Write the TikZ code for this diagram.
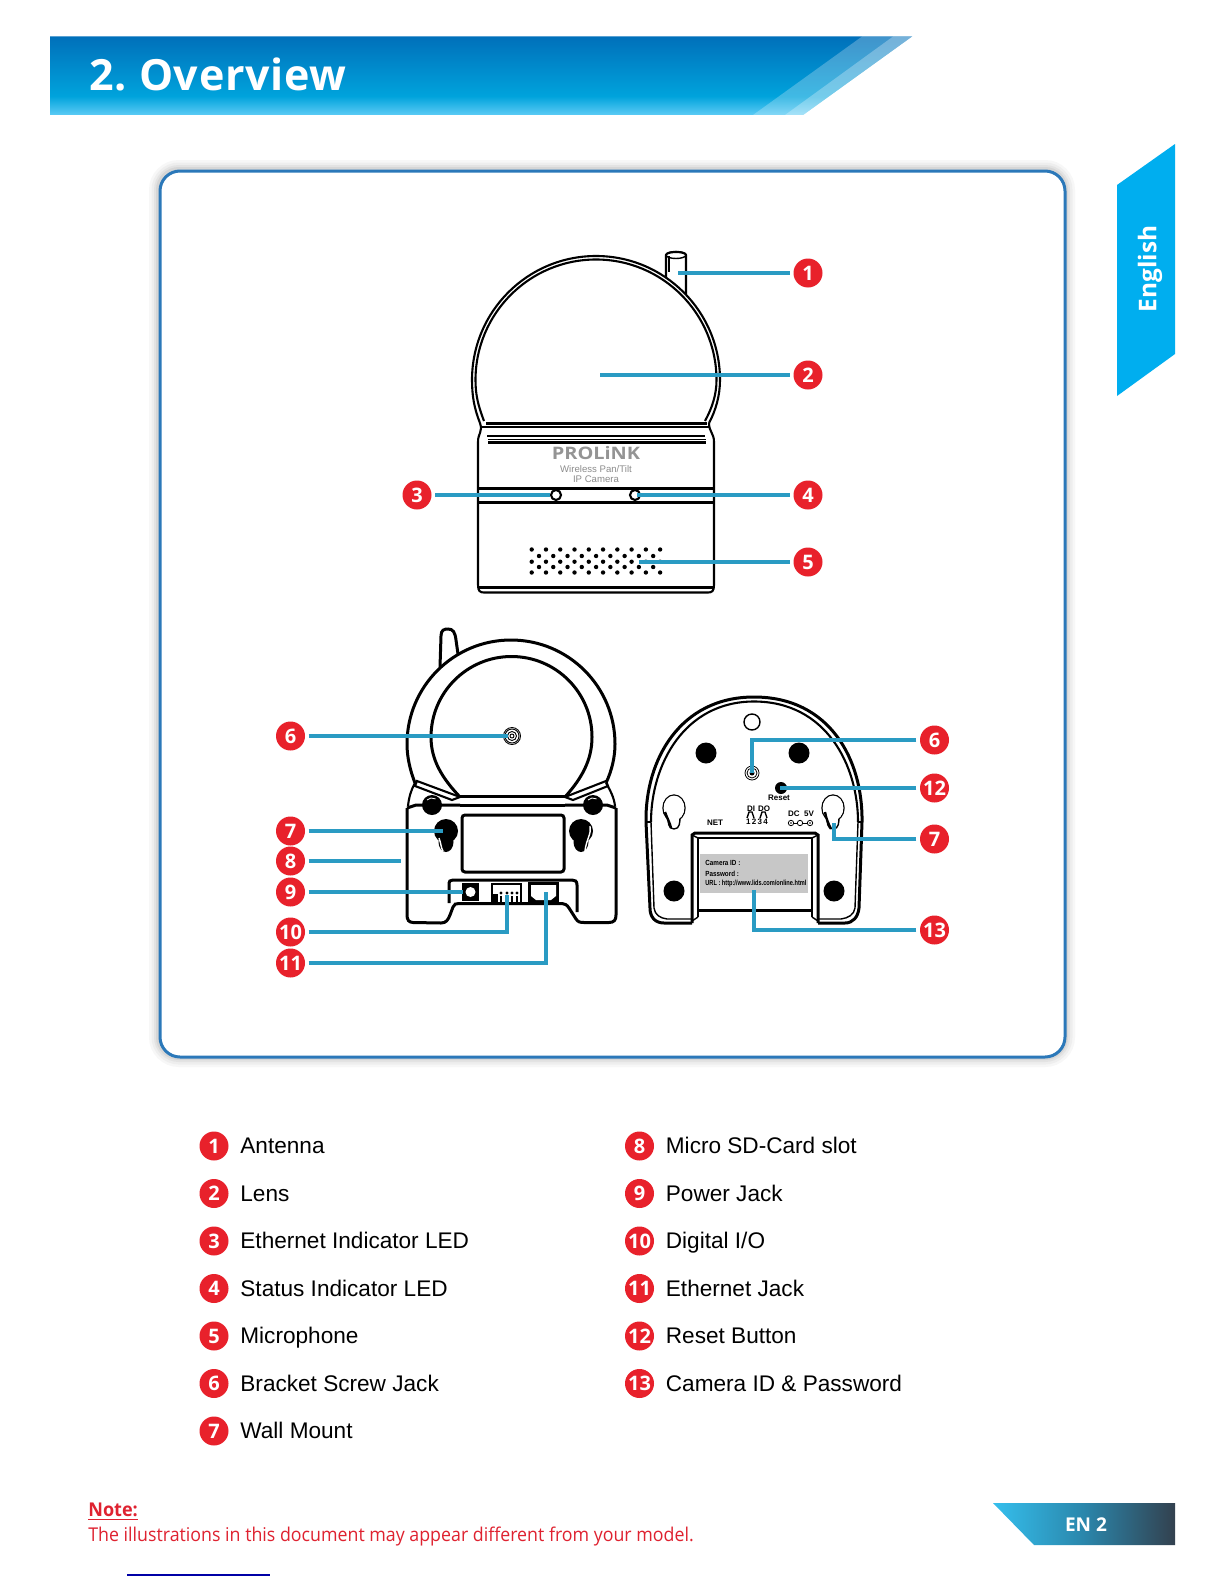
\documentclass[tikz,border=0pt]{standalone}
\usepackage{fontspec}
\setmainfont{Liberation Sans}
\newfontfamily\headfont[LetterSpace=1.5,WordSpace=0.7]{Open Sans}
\newfontfamily\opensans{Open Sans}
\usetikzlibrary{calc}
\definecolor{leadc}{HTML}{2A9BC3}
\definecolor{badgec}{HTML}{E8212B}
\definecolor{notec}{HTML}{DF2230}
\definecolor{boxc}{HTML}{2B78B9}
\definecolor{tabc}{HTML}{00AEEF}
\definecolor{hA}{HTML}{0070BA}
\definecolor{hB}{HTML}{00A3DC}
\definecolor{hC}{HTML}{5CCBF5}
\definecolor{pgL}{HTML}{35BFED}
\definecolor{pgM}{HTML}{2A86AB}
\definecolor{pgR}{HTML}{33414F}
\pgfdeclareverticalshading{hdr}{100bp}{color(0bp)=(hC); color(25bp)=(hC); color(37bp)=(hB); color(75bp)=(hA); color(100bp)=(hA)}
\pgfdeclarehorizontalshading{pgsh}{100bp}{color(0bp)=(pgL); color(25bp)=(pgL); color(50bp)=(pgM); color(75bp)=(pgR); color(100bp)=(pgR)}
\tikzset{
  leader/.style={draw=leadc,line width=1.6pt},
  badge/.style={circle,fill=badgec,text=white,minimum size=14.5pt,inner sep=0pt,outer sep=1.8pt,font=\opensans\bfseries\fontsize{10}{10}\selectfont},
  bigbadge/.style={badge,font=\opensans\bfseries\fontsize{10}{10}\selectfont},
  legend/.style={anchor=base west,inner sep=0pt,font=\fontsize{11.3}{13}\selectfont},
  ink/.style={draw=black,line width=1.05pt},
  thinink/.style={draw=black,line width=0.7pt},
  thickink/.style={draw=black,line width=1.5pt},
  tiny/.style={inner sep=0pt,font=\bfseries\fontsize{3.7}{4}\selectfont},
  smalltag/.style={inner sep=0pt,font=\bfseries\fontsize{4}{4}\selectfont},
}
\newcommand{\solidkey}[2]{%
  \fill[black] (#1,#2) ellipse[x radius=12,y radius=12];
  \fill[black] (#1,#2+11) ellipse[x radius=7.5,y radius=10];
}
\newcommand{\openkey}[2]{%
  \draw[thinink,fill=white] (#1,#2) ellipse[x radius=11,y radius=13];
  \fill[white,draw=black,line width=0.7pt] (#1-6,#2+8) .. controls (#1-6,#2+14) and (#1-6,#2+21) .. (#1,#2+21) .. controls (#1+6,#2+21) and (#1+6,#2+14) .. (#1+6,#2+8) -- cycle;
  \fill[white] (#1,#2) ellipse[x radius=10.4,y radius=12.4];
}
\begin{document}
\begin{tikzpicture}[x=0.5pt,y=-0.5pt]
\useasboundingbox (0,0) rectangle (1224,1584);
\fill[white] (0,0) rectangle (1224,1584);

% header
\shade[shading=hdr] (50,36.5) -- (912,36.5) -- (803,115) -- (50,115) -- cycle;
\fill[white,opacity=.25] (862,36.5) -- (912,36.5) -- (803,115) -- (753,115) -- cycle;
\fill[white,opacity=.28] (893,36.5) -- (912,36.5) -- (803,115) -- (785,115) -- cycle;
\node[anchor=west,inner sep=0pt,text=white,font=\headfont\bfseries\fontsize{21.5}{24}\selectfont] (title) at (89,74) {2. Overview};

% language tab
\fill[tabc] (1117,185) -- (1175,144) -- (1175,354) -- (1117,396) -- cycle;
\node[rotate=90,inner sep=0pt,text=white,font=\opensans\bfseries\fontsize{12.2}{14}\selectfont] (lang) at (1150,269) {English};

% main box
\foreach \w/\o in {20/.05,15/.06,10/.08,6/.10}
  \draw[black!60,opacity=\o,line width=\w*0.5pt,rounded corners=10pt] (159,170) rectangle (1065,1057);
\draw[boxc,line width=1.5pt,fill=white,rounded corners=10pt] (160,171) rectangle (1065,1057);

% ----- front camera
\draw[ink,fill=white] (666,292) -- (666,255) arc[start angle=180,end angle=360,x radius=10,y radius=3] -- (686,295);
\draw[thinink] (676,255) ellipse[x radius=10,y radius=3.5];
\draw[thinink] (669,256) -- (669,272);
\draw[ink,fill=white] (480,423) .. controls (474,408) and (472,395) .. (472,380) arc[start angle=180,end angle=360,radius=124] .. controls (720,395) and (716,410) .. (709,423);
\draw[ink] (484,421) .. controls (478,405) and (475.5,395) .. (475.5,380) arc[start angle=180,end angle=360,radius=120.5] .. controls (716.5,395) and (712,408) .. (705,421);
\draw[thickink] (486,423) -- (707,423);
\draw[ink] (482,427) -- (710,427);
\draw[ink] (487,436) -- (705,436);
\draw[thinink] (488,439.5) -- (706,439.5);
\draw[ink] (488,442.5) -- (706,442.5);
\draw[ink] (480,423) .. controls (483,432) and (478,433) .. (478,442) -- (478,585) .. controls (478,591) and (480,592.5) .. (484,592.5) -- (708,592.5) .. controls (712,592.5) and (714,591) .. (714,585) -- (714,442) .. controls (714,433) and (709,432) .. (709,423);
\draw[thickink] (478,488) -- (714,488);
\draw[thickink] (478,502) -- (714,502);
\draw[thickink] (478,587) -- (714,587);
\node[inner sep=0pt,text=black!42,font=\opensans\bfseries\fontsize{8.6}{9}\selectfont] (brand) at (596,453.5) {\scalebox{1.16}[1]{PROLiNK}};
\node[inner sep=0pt,text=black!45,font=\fontsize{4.8}{5}\selectfont] (model1) at (596,469.5) {Wireless Pan/Tilt};
\node[inner sep=0pt,text=black!45,font=\fontsize{4.8}{5}\selectfont] (model2) at (596,479) {IP Camera};
\draw[ink,fill=white] (556,495) circle[radius=5];
\draw[ink,fill=white] (635,495) circle[radius=5];
\foreach \yy in {549.5,561.7,572.5} \foreach \i in {0,...,9} \fill[black] (531.7+\i*14.27,\yy) circle[radius=2.2];
\foreach \yy in {556,567} \foreach \i in {0,...,8} \fill[black] (539+\i*14.27,\yy) circle[radius=2.2];

% ----- rear camera
\draw[thickink] (440,667) -- (441,636) .. controls (441,630) and (444,629) .. (448,629) .. controls (453,629) and (455,632) .. (456,640) -- (458,654);
\draw[thickink,fill=white] (415,783) .. controls (410,770) and (407,757) .. (407,744) arc[start angle=180,end angle=360,radius=104] .. controls (615,757) and (612,770) .. (606,783);
\draw[thickink] (460,797) .. controls (442,778) and (431,760) .. (431,737) arc[start angle=180,end angle=360,radius=80.5] .. controls (592,760) and (582,778) .. (565,797);
\draw[thickink] (460,796) -- (565,796);
\foreach \r in {2,4.5,7,8.5} \draw[black,line width=0.45pt] (512,736) circle[radius=\r];
% fins
\draw[ink,fill=white] (417,781) -- (460,797) -- (452,800) -- (415,786) -- cycle;
\draw[ink,fill=white] (606,781) -- (565,797) -- (573,800) -- (608,786) -- cycle;
\draw[ink] (415,783) .. controls (411,790) and (409,797) .. (408,806);
\draw[ink] (606,783) .. controls (610,790) and (614,797) .. (615,806);
% body
\draw[thickink] (407,808) -- (407,914) .. controls (407,921) and (409,922) .. (413,922.5) -- (441,923) .. controls (446,923) and (448,920) .. (450,915) -- (453,907) .. controls (454,904) and (456,903.5) .. (459,903.5) -- (562,903.5) .. controls (565,903.5) and (567,905) .. (569,908) -- (576,919) .. controls (578,922) and (580,922.5) .. (584,922.5) -- (609,922.5) .. controls (614,922.5) and (616,920) .. (616,915) -- (616,808);
\draw[thickink] (407,808) -- (416,805) -- (460,805);
\draw[thickink] (616,808) -- (607,805) -- (565,805);
\draw[thickink] (460,805) -- (565,805);
\draw[thickink,rounded corners=1.5pt] (462,815) rectangle (564,872);
\fill[black] (432,805) circle[radius=10];
\fill[black] (593,805) circle[radius=10];
\draw[white,line width=0.4pt] (427,800) arc[start angle=225,end angle=300,radius=7];
\draw[white,line width=0.4pt] (588,800) arc[start angle=225,end angle=300,radius=7];
\solidkey{446}{831}
\solidkey{581}{831}
\draw[white,line width=0.7pt] (439,838) .. controls (441,843) and (441,848) .. (443,851);
\draw[white,line width=0.7pt] (590,826) .. controls (592,833) and (586,840) .. (585,851);
\draw[thickink] (449,903) -- (449,885) .. controls (449,881) and (450,880) .. (453,880) -- (572,880) .. controls (575,880) and (577,881) .. (577,885) -- (577,912);
\fill[black] (462,883) rectangle (479,901);
\fill[white] (470.5,892) circle[radius=5];
\draw[black,line width=0.7pt] (492,884) rectangle (521,903);
\fill[black] (493,894) rectangle (498,902);
\foreach \xx in {501,507,512,517} {\fill[black] (\xx,893) circle[radius=1.6]; \draw[black,line width=0.6pt] (\xx,896) -- (\xx,902);}
\fill[black] (528,882) rectangle (559,902);
\fill[white] (531,885) -- (556,885) -- (556,896) -- (551,900) -- (536,900) -- (531,896) -- cycle;

% ----- underside
\draw[thickink] (692,923) -- (664,923) .. controls (655,923) and (650,917) .. (650,908) -- (646,822) .. controls (645,760) and (680,697) .. (754,697) .. controls (830,697) and (863,760) .. (862,822) -- (859,908) .. controls (858,917) and (853,923) .. (845,923) -- (818,923);
\draw[ink] (651,822) .. controls (651,765) and (684,701.5) .. (754,701.5) .. controls (826,701.5) and (858,765) .. (858,822);
\draw[thinink] (646,822) -- (651,822);
\draw[thinink] (858,822) -- (862,822);
\draw[thinink] (654,908) -- (651,822);
\draw[thinink] (855,908) -- (858,822);
\draw[thinink] (654,908) .. controls (655,915) and (660,918) .. (667,919) -- (692,919);
\draw[thinink] (855,908) .. controls (854,915) and (848,918) .. (841,919) -- (818,919);
\draw[thickink] (692,923) -- (692,835) -- (695,833) -- (815,833) -- (818,835) -- (818,923);
\draw[ink] (698,838) -- (698,917) ;
\draw[ink] (812,838) -- (812,917);
\draw[ink] (698,838) -- (812,838);
\draw[thinink] (692,835) -- (698,838);
\draw[thinink] (818,835) -- (812,838);
\draw[thickink] (698,910) -- (812,910);
\draw[thinink] (698,917) -- (692,921);
\draw[thinink] (812,917) -- (818,921);
\fill[black!22] (700,854) rectangle (808,893);
\node[tiny,anchor=west] (cam1) at (705,863) {\scalebox{.85}[1]{Camera ID :}};
\node[tiny,anchor=west] (cam2) at (705,874) {\scalebox{.85}[1]{Password :}};
\node[tiny,anchor=west] (cam3) at (705,884) {\scalebox{.76}[1]{URL : http://www.lids.com/online.html}};
\draw[thinink,fill=white] (752,722) circle[radius=8];
\fill[black] (706,753) circle[radius=10.5];
\fill[black] (799,753) circle[radius=10.5];
\fill[black] (674,891) circle[radius=10.5];
\fill[black] (834,891) circle[radius=10.5];
\draw[black,line width=0.4pt] (752,773) circle[radius=7];
\draw[black,line width=0.4pt] (752,773) circle[radius=5];
\fill[black] (752,773) circle[radius=2.5];
\fill[black] (781,788) circle[radius=6];
\openkey{674}{808}
\openkey{833}{808}
\draw[black,line width=1.2pt] (665,812) .. controls (667,818) and (670,823) .. (671,828);
\draw[black,line width=1.2pt] (825,812) .. controls (826,818) and (828,823) .. (831,829);
\node[smalltag] (reset) at (779,798) {Reset};
\node[smalltag] (net) at (715,823) {NET};
\node[smalltag] (di) at (751,809) {DI};
\node[smalltag] (do) at (764,809) {DO};
\node[smalltag] (ports) at (757,822) {1\,2\,3\,4};
\node[smalltag] (dc) at (801,814) {DC\ \ 5V};
\draw[thinink] (747,818) -- (749,812) -- (752,812) -- (754,818);
\draw[thinink] (760,818) -- (762,812) -- (765,812) -- (767,818);
\draw[black,line width=0.4pt] (791,823) circle[radius=2.7];
\draw[black,line width=0.4pt] (800,823) circle[radius=2.7];
\draw[black,line width=0.4pt] (810,823) circle[radius=2.7];
\draw[black,line width=0.4pt] (793.7,823) -- (797.3,823) (802.7,823) -- (807.3,823);
\fill[black] (791,823) circle[radius=0.9];
\fill[black] (810,823) circle[radius=0.9];

% ----- callouts
\node[badge] (a1) at (808,273) {1};
\node[badge] (a2) at (808,375) {2};
\node[badge] (a3) at (417,495) {3};
\node[badge] (a4) at (808,495) {4};
\node[badge] (a5) at (808,562) {5};
\node[badge] (b6) at (290.5,736) {6};
\node[badge] (b7) at (290.5,831) {7};
\node[badge] (b8) at (290.5,861) {8};
\node[badge] (b9) at (290.5,892) {9};
\node[bigbadge] (b10) at (290.5,932) {10};
\node[bigbadge] (b11) at (290.5,963) {11};
\node[badge] (c6) at (934.5,740) {6};
\node[bigbadge] (c12) at (934.5,788) {12};
\node[badge] (c7) at (934.5,839) {7};
\node[bigbadge] (c13) at (934.5,930) {13};
\coordinate (t1) at (678,273);
\coordinate (t2) at (600,375);
\coordinate (t3) at (550,495);
\coordinate (t4) at (637,495);
\coordinate (t5) at (639,562);
\coordinate (t6) at (508,736);
\coordinate (t7) at (443,831);
\coordinate (t8) at (401,861);
\coordinate (t9) at (463,892);
\coordinate (t10) at (507,895);
\coordinate (t11) at (546,892);
\coordinate (u6) at (752,773);
\coordinate (u12) at (780,788);
\coordinate (u7) at (834,823);
\coordinate (u13) at (754,890);
\draw[leader] (a1.west) -- (t1);
\draw[leader] (a2.west) -- (t2);
\draw[leader] (a3.east) -- (t3);
\draw[leader] (a4.west) -- (t4);
\draw[leader] (a5.west) -- (t5);
\draw[leader] (b6.east) -- (t6);
\draw[leader] (b7.east) -- (t7);
\draw[leader] (b8.east) -- (t8);
\draw[leader] (b9.east) -- (t9);
\draw[leader] (b10.east) -| (t10);
\draw[leader] (b11.east) -| (t11);
\draw[leader] (c6.west) -| (u6);
\draw[leader] (c12.west) -- (u12);
\draw[leader] (c7.west) -| (u7);
\draw[leader] (c13.west) -| (u13);

% ----- legend
\foreach \n/\yy/\txt in {1/1146/Antenna,2/1193.5/Lens,3/1241/Ethernet Indicator LED,4/1288.5/Status Indicator LED,5/1336/Microphone,6/1383.5/Bracket Screw Jack,7/1431/Wall Mount}{
  \node[badge] (l\n) at (214,\yy) {\n};
  \node[legend] (lt\n) at (240,\yy+7.5) {\txt};
}
\foreach \n/\yy/\txt in {8/1146/Micro SD-Card slot,9/1193.5/Power Jack,10/1241/{Digital I/O},11/1288.5/Ethernet Jack,12/1336/Reset Button,13/1383.5/Camera ID \& Password}{
  \node[bigbadge] (l\n) at (639.5,\yy) {\n};
  \node[legend] (lt\n) at (665.5,\yy+7.5) {\txt};
}

% ----- footer
\node[anchor=west,inner sep=0pt,text=notec,font=\opensans\bfseries\fontsize{9.5}{11}\selectfont] (noteh) at (88,1510) {\scalebox{.95}[1]{Note:}};
\coordinate (nu) at ($(noteh.south east)+(0,2)$);
\draw[notec,line width=0.6pt] (noteh.south west) ++(0,2) -- (nu);
\node[anchor=west,inner sep=0pt,text=notec,font=\opensans\fontsize{9.5}{11}\selectfont] (notet) at (88,1536.5) {\scalebox{.936}[1]{The illustrations in this document may appear different from your model.}};
\draw[draw=blue!65!black,line width=0.6pt] (127,1575) -- (270,1575);
\shade[shading=pgsh] (993,1503) -- (1175,1503) -- (1175,1545) -- (1034,1545) -- cycle;
\node[inner sep=0pt,text=white,font=\opensans\bfseries\fontsize{9.5}{11}\selectfont] (page) at (1086,1525) {EN 2};
\end{tikzpicture}
\end{document}
